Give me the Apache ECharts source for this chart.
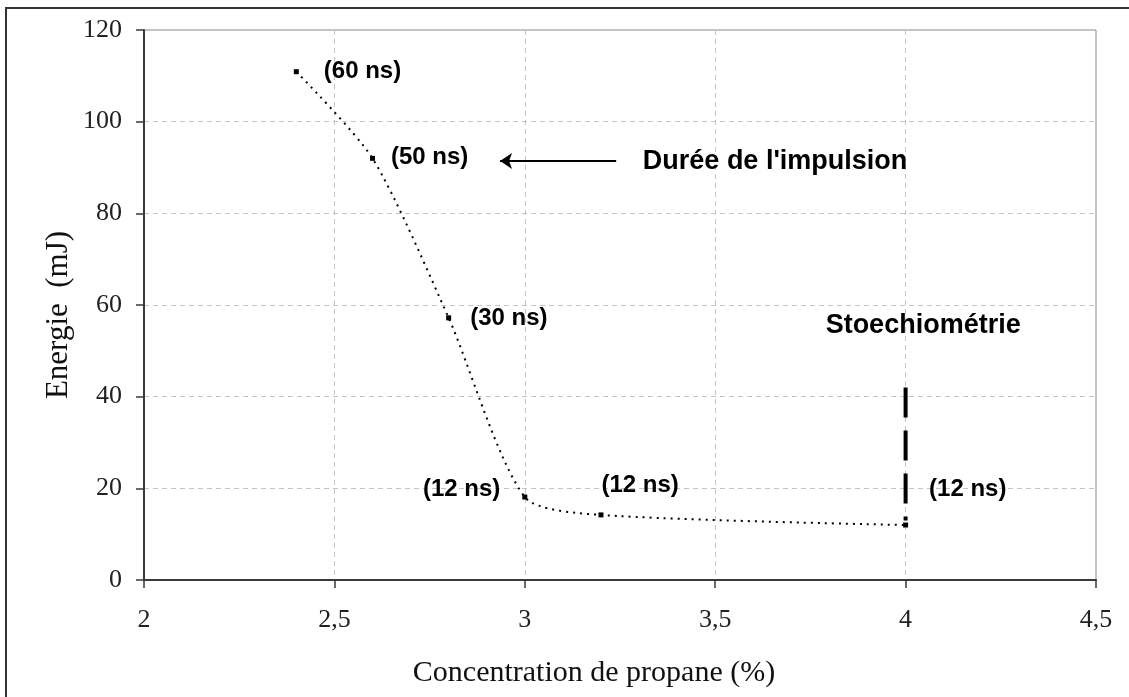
<!DOCTYPE html>
<html>
<head>
<meta charset="utf-8">
<script src="https://cdn.jsdelivr.net/npm/echarts@6/dist/echarts.min.js"></script>
<style>
  html, body { margin: 0; padding: 0; background: #fff; }
  #chart { width: 1129px; height: 697px; }
</style>
</head>
<body>
<div id="chart"></div>
<script>
// ---- data ----
const concentration = [2.4, 2.6, 2.8, 3, 3.2, 4];
const energy = [110.9, 92.0, 57.2, 18.1, 14.2, 12.0];
const pulseLabels = ['(60 ns)', '(50 ns)', '(30 ns)', '(12 ns)', '(12 ns)', '(12 ns)'];
const xTickValues = [2, 2.5, 3, 3.5, 4, 4.5];
const xTickLabels = ['2', '2,5', '3', '3,5', '4', '4,5'];
const yTickLabels = ['0', '20', '40', '60', '80', '100', '120'];
const stoichX = [4, 4];
const stoichY = [42, 13];
const annotTexts = ["Durée de l'impulsion", 'Stoechiométrie'];
const annotX = [3.31, 3.79];
const annotY = [91.4, 55.6];
const arrowX = [3.24, 2.935];
const arrowY = [91.4, 91.4];
const xTitle = 'Concentration de propane (%)';
const yTitle = 'Energie  (mJ)';

// ---- label placement (style, not data) ----
const labelPlacement = [
  { position: 'right', distance: 25, offset: [0, 0] },
  { position: 'right', distance: 16, offset: [0, -1] },
  { position: 'right', distance: 19, offset: [0, 1] },
  { position: 'left', distance: 22, offset: [0, -8] },
  { position: 'right', distance: -2, offset: [0, -30] },
  { position: 'right', distance: 21, offset: [0, -36] }
];

const boldFont = { fontFamily: 'Liberation Sans, Arial, sans-serif', fontWeight: 'bold', color: '#000', opacity: 1 };

const chart = echarts.init(document.getElementById('chart'), null, { renderer: 'canvas' });

const mainData = concentration.map((x, i) => ({
  value: [x, energy[i]],
  label: Object.assign({ show: true, formatter: pulseLabels[i], fontSize: 24 }, boldFont, labelPlacement[i])
}));

const option = {
  animation: false,
  backgroundColor: '#fff',
  grid: { left: 144, right: 33, top: 30, bottom: 117, show: true, borderColor: '#8a8a8a', borderWidth: 1, backgroundColor: 'transparent' },
  xAxis: {
    type: 'value', min: 2, max: 4.5, interval: 0.5,
    axisLine: { show: true, onZero: false, lineStyle: { color: '#3a3a3a', width: 2 } },
    axisTick: { show: true, inside: false, length: 8, lineStyle: { color: '#3a3a3a', width: 1.5 } },
    axisLabel: {
      margin: 27, fontFamily: 'Liberation Serif, Times New Roman, serif', fontSize: 26, color: '#222',
      formatter: v => { const k = xTickValues.findIndex(t => Math.abs(t - v) < 1e-9); return k >= 0 ? xTickLabels[k] : ''; }
    },
    splitLine: { show: true, lineStyle: { color: '#c4c4c4', type: [5, 4], width: 1 } }
  },
  yAxis: {
    type: 'value', min: 0, max: 120, interval: 20,
    axisLine: { show: true, onZero: false, lineStyle: { color: '#3a3a3a', width: 2 } },
    axisTick: { show: true, inside: false, length: 8, lineStyle: { color: '#3a3a3a', width: 1.5 } },
    axisLabel: {
      margin: 22, fontFamily: 'Liberation Serif, Times New Roman, serif', fontSize: 26, color: '#222',
      formatter: v => yTickLabels[Math.round(v / 20)]
    },
    splitLine: { show: true, lineStyle: { color: '#c4c4c4', type: [5, 4], width: 1 } }
  },
  graphic: [
    { type: 'rect', shape: { x: 6, y: 8, width: 1140, height: 720 }, style: { fill: 'none', stroke: '#333', lineWidth: 2 }, silent: true, z: -1 },
    { type: 'text', x: 594, y: 673, style: { text: xTitle, font: '30px "Liberation Serif", "Times New Roman", serif', fill: '#111', textAlign: 'center', textVerticalAlign: 'middle', align: 'center', verticalAlign: 'middle' } },
    { type: 'text', x: 59, y: 315, rotation: Math.PI / 2, style: { text: yTitle, font: '31px "Liberation Serif", "Times New Roman", serif', fill: '#111', textAlign: 'center', textVerticalAlign: 'middle', align: 'center', verticalAlign: 'middle' } }
  ],
  series: [
    {
      name: 'Energie', type: 'line', smooth: 0.25,
      data: mainData,
      symbol: 'rect', symbolSize: 5, itemStyle: { color: '#000' },
      lineStyle: { color: '#000', width: 2, type: [2, 5] },
      z: 3
    },
    {
      name: 'Stoechiométrie', type: 'line',
      data: stoichX.map((x, i) => [x, stoichY[i]]),
      symbol: 'none',
      lineStyle: { color: '#000', width: 4, type: [30, 13], cap: 'butt' },
      markLine: {
        silent: true, animation: false,
        symbol: ['none', 'arrow'], symbolSize: 12,
        lineStyle: { color: '#000', width: 2, type: 'solid' },
        label: { show: false },
        emphasis: { disabled: true },
        data: [[{ coord: [arrowX[0], arrowY[0]] }, { coord: [arrowX[1], arrowY[1]] }]]
      },
      z: 2
    },
    {
      name: 'annotations', type: 'scatter',
      data: annotX.map((x, i) => ({ value: [x, annotY[i]], label: Object.assign({ show: true, position: 'right', distance: 0, fontSize: 27, formatter: annotTexts[i] }, boldFont) })),
      symbolSize: 0,
      itemStyle: { color: '#000', opacity: 1 },
      z: 4
    }
  ]
};
chart.setOption(option);
</script>
</body>
</html>
